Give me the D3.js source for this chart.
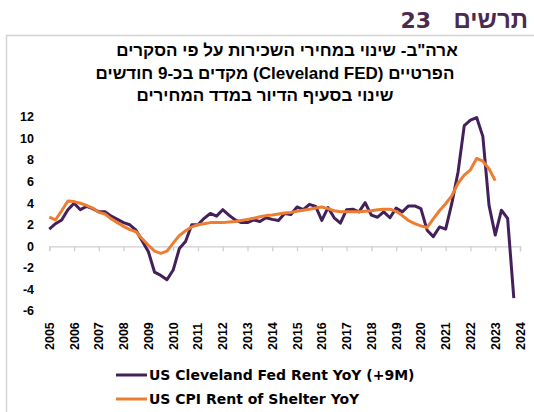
<!DOCTYPE html>
<html><head><meta charset="utf-8">
<script src="https://cdn.jsdelivr.net/npm/d3@7"></script>
<style>body{margin:0;background:#fff}svg{display:block}</style>
</head><body><svg id="c" width="534" height="412"></svg>
<script>
const chartWord = "תרשים";
const chartNum = "23";
const titleLines = [
  'ארה"ב- שינוי במחירי השכירות על פי הסקרים',
  'הפרטיים (Cleveland FED) מקדים בכ-9 חודשים',
  'שינוי בסעיף הדיור במדד המחירים'
];
const seriesNames = ["US Cleveland Fed Rent YoY (+9M)", "US CPI Rent of Shelter YoY"];
const yearLabels = d3.range(2005, 2025).map(String);
const yTicks = [12,10,8,6,4,2,0,-2,-4,-6];
// quarterly values starting 2005 Q1
const clevelandRent = [1.6,2.1,2.45,3.4,4.0,3.4,3.7,3.5,3.2,3.2,2.8,2.5,2.2,2.0,1.5,0.5,
  -0.5,-2.4,-2.7,-3.1,-2.2,-0.2,0.45,2.0,2.0,2.6,3.05,2.8,3.4,2.9,2.45,2.2,
  2.2,2.45,2.3,2.65,2.5,2.4,3.05,2.95,3.65,3.4,3.9,3.7,2.4,3.6,2.65,2.15,
  3.4,3.45,3.2,4.05,2.9,2.7,3.2,2.65,3.55,3.2,3.75,3.75,3.5,1.5,0.9,1.8,
  1.6,4.0,6.9,11.2,11.7,11.95,10.2,3.8,1.05,3.35,2.6,-4.8];
const cpiShelter = [2.7,2.45,3.3,4.2,4.15,4.0,3.8,3.55,3.15,3.0,2.55,2.2,1.85,1.55,1.35,0.7,
  0.1,-0.45,-0.65,-0.45,0.3,1.0,1.45,1.8,2.0,2.1,2.2,2.2,2.2,2.25,2.3,2.4,
  2.5,2.6,2.75,2.85,2.9,3.0,3.1,3.15,3.25,3.35,3.45,3.55,3.65,3.5,3.3,3.2,
  3.2,3.2,3.2,3.25,3.3,3.4,3.45,3.45,3.25,2.85,2.4,2.1,1.9,1.75,2.55,3.3,
  3.95,4.7,5.85,6.6,7.1,8.15,7.9,7.2,6.1];
const colors = ["#44205a", "#ed7d31"];

const svg = d3.select("#c");
const FONT = "'Liberation Sans', Arial, sans-serif";
const WIDE = "'DejaVu Sans', Verdana, sans-serif";

// frame
svg.append("path").attr("d","M6.5,412 V35.5 H534").attr("fill","none").attr("stroke","#d4d4d4").attr("stroke-width",1.5);

svg.append("text").attr("x",528).attr("y",28).attr("text-anchor","end")
  .attr("font-family",FONT).attr("font-weight","bold").attr("font-size",24)
  .attr("fill","#4b2a50").text(chartWord);
svg.append("text").attr("x",431).attr("y",28).attr("text-anchor","end")
  .attr("font-family",WIDE).attr("font-weight","bold").attr("font-size",22)
  .attr("fill","#4b2a50").text(chartNum);

const titleX = [287, 275, 265], titleY = [56, 79, 101];
titleLines.forEach((t,i)=>{
  svg.append("text").attr("x",titleX[i]).attr("y",titleY[i]).attr("text-anchor","middle")
    .attr("direction","rtl").attr("font-family",FONT).attr("font-weight","bold")
    .attr("font-size",17).attr("fill","#000").text(t);
});

const x = d3.scaleLinear().domain([2005, 2024]).range([49.3, 520]);
const y = d3.scaleLinear().domain([-6, 12]).range([311, 117]);

// y labels
svg.append("g").selectAll("text").data(yTicks).join("text")
  .attr("x",34).attr("y",d=>y(d)).attr("dy","0.35em").attr("text-anchor","end")
  .attr("font-family",FONT).attr("font-weight","bold").attr("font-size",12.5).attr("fill","#000")
  .text(d=>d);

// x axis at zero
const xAxis = d3.axisBottom(x).tickValues(d3.range(2005,2025)).tickSize(5).tickFormat("");
const gx = svg.append("g").attr("transform",`translate(0,${y(0)})`).call(xAxis);
gx.selectAll("line,path").attr("stroke","#d0d0d0").attr("stroke-width",1.3);

// year labels at bottom
svg.append("g").selectAll("text").data(yearLabels).join("text")
  .attr("transform",d=>`translate(${x(+d)},350) rotate(-90)`)
  .attr("dy","0.36em").attr("text-anchor","start")
  .attr("font-family",FONT).attr("font-weight","bold").attr("font-size",12.5).attr("fill","#000")
  .text(d=>d);

const line = d3.line().x((d,i)=>x(2005 + i/4)).y(d=>y(d));
[clevelandRent, cpiShelter].forEach((s,k)=>{
  svg.append("path").datum(s).attr("d",line).attr("fill","none")
    .attr("stroke",colors[k]).attr("stroke-width",3).attr("stroke-linejoin","round");
});
// legend
seriesNames.forEach((n,i)=>{
  const ly = 375 + i*24;
  svg.append("line").attr("x1",116).attr("x2",147).attr("y1",ly).attr("y2",ly)
    .attr("stroke",colors[i]).attr("stroke-width",3);
  svg.append("text").attr("x",149).attr("y",ly).attr("dy","0.36em")
    .attr("font-family",WIDE).attr("font-weight","bold").attr("font-size",14).attr("fill","#000").text(n);
});
</script></body></html>
